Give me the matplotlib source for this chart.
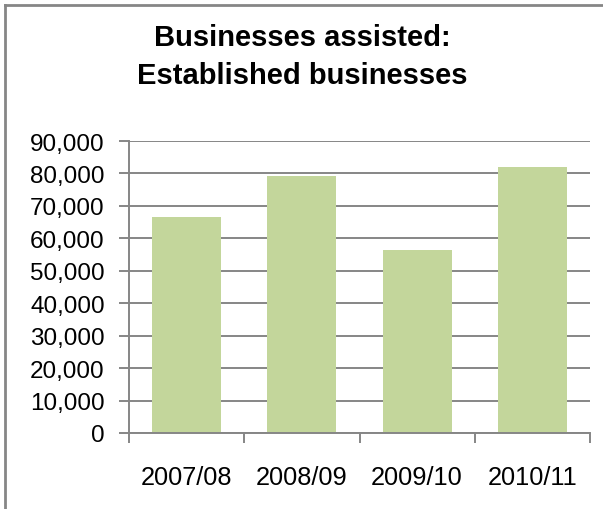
import matplotlib
matplotlib.use("Agg")
import matplotlib.pyplot as plt
from matplotlib.lines import Line2D
from matplotlib.ticker import FuncFormatter, FixedLocator, NullFormatter

plt.rcParams['font.family'] = ['Liberation Sans', 'DejaVu Sans']

years = ["2007/08", "2008/09", "2009/10", "2010/11"]
businesses = [66500, 79200, 56300, 82000]
title = "Businesses assisted:\nEstablished businesses"

W, H = 603, 510
fig = plt.figure(figsize=(W / 100, H / 100), dpi=100)
ax = fig.add_axes([129 / W, 1 - 434 / H, 461 / W, (434 - 142) / H])

grey = "#868686"
x = list(range(len(years)))
ax.bar(x, businesses, width=0.6, color="#C3D69B", zorder=2)

ax.set_xlim(-0.5, len(years) - 0.5)
ax.set_ylim(0, 90000)
ax.set_yticks(range(0, 90001, 10000))
ax.yaxis.set_major_formatter(FuncFormatter(lambda v, p: f"{int(v):,}"))
ax.grid(axis="y", color=grey, linewidth=1.4, zorder=1)

# category labels centred, tick marks at category boundaries
ax.set_xticks(x)
ax.set_xticklabels(years)
ax.xaxis.set_minor_locator(FixedLocator([i - 0.5 for i in range(len(years) + 1)]))
ax.xaxis.set_minor_formatter(NullFormatter())
ax.tick_params(axis="x", which="major", length=0, pad=23, labelsize=18.3)
ax.tick_params(axis="x", which="minor", length=7.5, width=1.4, color=grey, direction="out")
ax.tick_params(axis="y", length=7.5, width=1.4, color=grey, direction="out", pad=10,
               labelsize=17.5)

for s in ["top", "right"]:
    ax.spines[s].set_visible(False)
for s in ["left", "bottom"]:
    ax.spines[s].set_color(grey)
    ax.spines[s].set_linewidth(1.4)

fig.text(302 / W, 1 - 57 / H, title, ha="center", va="center",
         fontsize=21, fontweight="bold", linespacing=1.45)

# outer frame (top and left edges)
fig.add_artist(Line2D([5 / W, 1], [1 - 5.5 / H, 1 - 5.5 / H], color=grey, linewidth=2,
                      transform=fig.transFigure))
fig.add_artist(Line2D([5 / W, 5 / W], [0, 1 - 5.5 / H], color=grey, linewidth=2,
                      transform=fig.transFigure))

fig.savefig("out.png", dpi=100, facecolor="white")
